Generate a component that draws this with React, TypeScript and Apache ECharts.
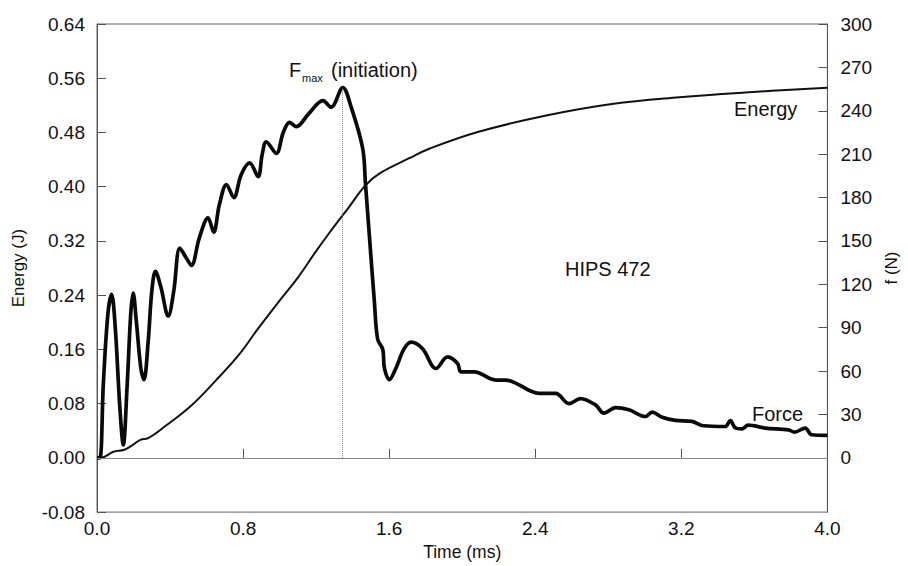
import React, { useEffect, useRef } from 'react';
import * as echarts from 'echarts';

// ---- data ----
const forceTickValues = [0, 30, 60, 90, 120, 150, 180, 210, 240, 270, 300];

const energyTime = [0.0, 0.02, 0.09, 0.15, 0.2, 0.24, 0.28, 0.38, 0.52, 0.65, 0.78, 0.88, 1.0, 1.1, 1.2, 1.27, 1.38, 1.47, 1.55, 1.71, 1.82, 2.09, 2.46, 2.82, 3.19, 3.55, 4.0];
const energyValues = [0.0, 0.0, 0.009, 0.012, 0.02, 0.027, 0.029, 0.048, 0.078, 0.114, 0.153, 0.19, 0.232, 0.266, 0.305, 0.331, 0.37, 0.402, 0.42, 0.442, 0.456, 0.481, 0.505, 0.522, 0.532, 0.539, 0.546];

const forceTime = [0.0, 0.016, 0.035, 0.06, 0.08, 0.1, 0.125, 0.144, 0.165, 0.185, 0.198, 0.215, 0.24, 0.257, 0.28, 0.3, 0.32, 0.35, 0.39, 0.42, 0.454, 0.49, 0.517, 0.56, 0.608, 0.639, 0.67, 0.709, 0.749, 0.79, 0.836, 0.882, 0.905, 0.927, 0.982, 1.02, 1.055, 1.091, 1.16, 1.237, 1.282, 1.346, 1.392, 1.455, 1.47, 1.492, 1.519, 1.537, 1.565, 1.574, 1.601, 1.637, 1.68, 1.72, 1.783, 1.856, 1.92, 1.975, 1.993, 2.066, 2.184, 2.239, 2.421, 2.512, 2.585, 2.648, 2.73, 2.776, 2.84, 2.913, 3.004, 3.04, 3.095, 3.168, 3.258, 3.322, 3.44, 3.468, 3.495, 3.532, 3.566, 3.66, 3.787, 3.82, 3.878, 3.914, 4.0];
const forceValues = [0, 0, 52, 100, 113, 90, 35, 9, 50, 100, 114, 95, 62, 54, 80, 115, 129, 118, 98, 115, 145, 138, 133, 152, 166, 156, 175, 189, 180, 196, 204, 194.5, 210, 218.5, 210.5, 225, 232, 229, 238, 247, 242.5, 256, 242.5, 214, 190, 153, 108, 82, 75, 62, 54, 62, 75, 80, 75.5, 61.8, 69.8, 65.2, 59.5, 59.5, 53.8, 53.8, 44.6, 44.6, 37.5, 41, 36.6, 30.9, 34.8, 33.2, 28.6, 31.6, 28.1, 25.9, 25.2, 22.2, 21.7, 25.8, 20.8, 20, 22.6, 20.6, 19.4, 17.8, 20.6, 16, 15.6];

const fmaxTime = 1.345;
const fmaxEnergyEquiv = 0.546;

const FONT = "'Liberation Sans', Arial, sans-serif";

export default function App() {
  const ref = useRef<HTMLDivElement>(null);
  useEffect(() => {
    if (!ref.current) return;
    const chart = echarts.init(ref.current, undefined, { renderer: 'svg' });
    const energyData = energyTime.map((t, i) => [t, energyValues[i]]);
    const forceData = forceTime.map((t, i) => [t, forceValues[i]]);
    const axisColor = '#555';
    const labelSize = 19;
    const noteSize = 20;
    chart.setOption({
      animation: false,
      backgroundColor: '#fff',
      textStyle: { fontFamily: FONT },
      grid: {
        left: 97, right: 79, top: 24, bottom: 53,
        show: true, borderColor: '#666', borderWidth: 1, backgroundColor: 'transparent',
      },
      xAxis: {
        type: 'value', min: 0, max: 4, interval: 0.8,
        name: 'Time (ms)', nameLocation: 'middle', nameGap: 30,
        nameTextStyle: { fontSize: 17.5, color: '#111', fontFamily: FONT },
        axisLine: { lineStyle: { color: axisColor } },
        axisTick: { inside: true, length: 9, lineStyle: { color: axisColor } },
        axisLabel: { fontSize: labelSize, color: '#111', margin: 7, formatter: (v: number) => v.toFixed(1), fontFamily: FONT },
        splitLine: { show: false },
      },
      yAxis: [
        {
          type: 'value', min: -0.08, max: 0.64, interval: 0.08,
          name: 'Energy (J)', nameLocation: 'middle', nameGap: 70, nameRotate: 90,
          nameTextStyle: { fontSize: 17, color: '#111', fontFamily: FONT },
          axisLine: { show: true, lineStyle: { color: axisColor } },
          axisTick: { inside: true, length: 9, lineStyle: { color: axisColor } },
          axisLabel: { fontSize: labelSize, color: '#111', margin: 12, formatter: (v: number) => v.toFixed(2), fontFamily: FONT },
          splitLine: { show: false },
        },
        {
          type: 'value', min: -37.5, max: 300, position: 'right',
          name: 'f (N)', nameLocation: 'middle', nameGap: 52, nameRotate: 90,
          nameTextStyle: { fontSize: 17, color: '#111', fontFamily: FONT },
          axisLine: { show: true, lineStyle: { color: axisColor } },
          axisTick: { inside: true, length: 9, lineStyle: { color: axisColor }, customValues: forceTickValues },
          axisLabel: { fontSize: labelSize, color: '#111', margin: 13, customValues: forceTickValues, fontFamily: FONT },
          splitLine: { show: false },
        },
      ],
      series: [
        {
          type: 'line', name: 'Energy', yAxisIndex: 0, data: energyData,
          showSymbol: false, smooth: 0.4,
          lineStyle: { color: '#111', width: 2 },
          markLine: {
            silent: true, symbol: 'none',
            label: { show: false },
            data: [
              [{ coord: [0, 0], lineStyle: { color: '#888', width: 1.2, type: 'solid' } }, { coord: [4, 0] }],
              [{ coord: [fmaxTime, 0], lineStyle: { color: '#888', width: 1, type: 'dotted' } }, { coord: [fmaxTime, fmaxEnergyEquiv] }],
            ],
          },
          z: 3,
        },
        {
          type: 'line', name: 'Force', yAxisIndex: 1, data: forceData,
          showSymbol: false, smooth: 0.35,
          lineStyle: { color: '#0a0a0a', width: 3.7 },
          z: 4,
        },
      ],
      graphic: [
        { type: 'text', left: 289, top: 60, style: { text: 'F', fontSize: noteSize, fill: '#111', fontFamily: FONT } },
        { type: 'text', left: 302, top: 72, style: { text: 'max', fontSize: 11, fill: '#111', fontFamily: FONT } },
        { type: 'text', left: 331, top: 60, style: { text: '(initiation)', fontSize: noteSize, fill: '#111', fontFamily: FONT } },
        { type: 'text', left: 565, top: 259, style: { text: 'HIPS 472', fontSize: noteSize, fill: '#111', fontFamily: FONT } },
        { type: 'text', left: 734, top: 99, style: { text: 'Energy', fontSize: noteSize, fill: '#111', fontFamily: FONT } },
        { type: 'text', left: 752, top: 404, style: { text: 'Force', fontSize: noteSize, fill: '#111', fontFamily: FONT } },
      ],
    });
    return () => chart.dispose();
  }, []);
  return <div ref={ref} style={{ width: 908, height: 566, position: 'absolute', left: 0, top: 0 }} />;
}
